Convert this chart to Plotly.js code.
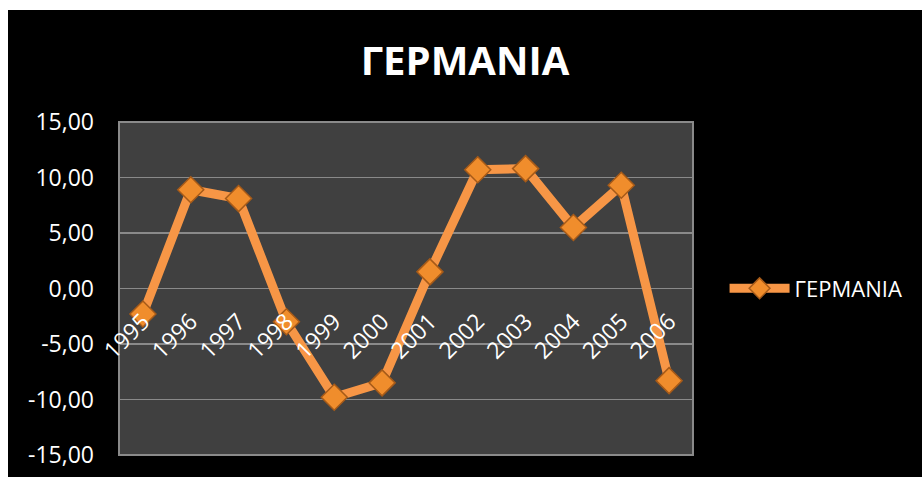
<!DOCTYPE html>
<html>
<head>
<meta charset="utf-8">
<script src="https://cdn.plot.ly/plotly-3.0.1.min.js"></script>
<style>
html,body{margin:0;padding:0;background:#ffffff;width:922px;height:477px;overflow:hidden;}
#chart{position:absolute;left:8px;top:10px;width:914px;height:467px;}
</style>
</head>
<body>
<div id="chart"></div>
<script>
const years = ['1995','1996','1997','1998','1999','2000','2001','2002','2003','2004','2005','2006'];
const germany = [-2.3, 8.9, 8.1, -3.0, -9.8, -8.5, 1.5, 10.7, 10.8, 5.5, 9.3, -8.3];
const seriesName = 'ΓΕΡΜΑΝΙΑ';
const yTicks = [-15, -10, -5, 0, 5, 10, 15];
const yTickLabels = ['-15,00', '-10,00', '-5,00', '0,00', '5,00', '10,00', '15,00'];

const FONT = 'Open Sans, Noto Sans, DejaVu Sans, sans-serif';

const trace = {
  x: years,
  y: germany,
  type: 'scatter',
  mode: 'lines+markers',
  name: seriesName,
  line: {color: '#F79646', width: 9},
  marker: {symbol: 'diamond', size: 20, color: '#F08D2C', line: {color: '#A65A18', width: 1.5}}
};

const layout = {
  width: 914,
  height: 467,
  paper_bgcolor: '#000000',
  plot_bgcolor: '#404040',
  separators: ',.',
  margin: {l: 111, r: 229, t: 112, b: 22},
  title: {text: '<b>' + seriesName + '</b>', font: {family: FONT, size: 40, color: '#ffffff'}, x: 0.5, xanchor: 'center', y: 0.89, yanchor: 'middle'},
  xaxis: {
    type: 'category',
    anchor: 'free',
    position: 0.5,
    showgrid: false,
    showline: false,
    zeroline: false,
    tickangle: -45,
    ticks: '',
    ticklabelstandoff: 14,
    tickfont: {family: FONT, size: 23, color: '#ffffff'},
    range: [-0.5, 11.5]
  },
  yaxis: {
    range: [-15, 15],
    tickvals: yTicks,
    ticktext: yTickLabels,
    showgrid: true,
    gridcolor: '#8a8a8a',
    gridwidth: 1.5,
    zeroline: false,
    showline: false,
    ticks: '',
    ticklabelstandoff: 24,
    tickfont: {family: FONT, size: 23, color: '#ffffff'}
  },
  shapes: [{type: 'rect', xref: 'paper', yref: 'paper', x0: 0, x1: 1, y0: 0, y1: 1, line: {color: '#8a8a8a', width: 2}, layer: 'below'}],
  showlegend: true,
  legend: {x: 1.055, xanchor: 'left', y: 0.5, yanchor: 'middle', bgcolor: 'rgba(0,0,0,0)', itemwidth: 60, font: {family: FONT, size: 22, color: '#ffffff'}}
};

Plotly.newPlot('chart', [trace], layout, {displayModeBar: false, staticPlot: true});
</script>
</body>
</html>
